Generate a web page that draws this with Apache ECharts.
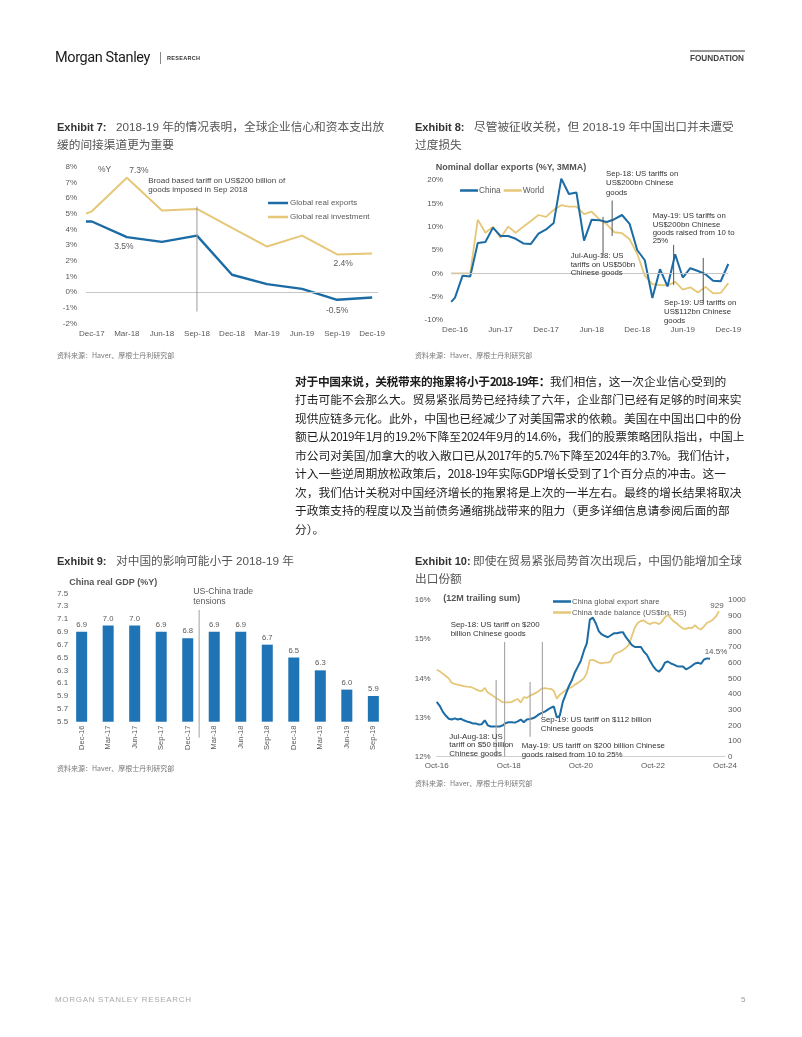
<!DOCTYPE html>
<html><head><meta charset="utf-8">
<script src="https://cdn.jsdelivr.net/npm/echarts/dist/echarts.min.js"></script>
<style>
html,body{margin:0;padding:0;background:#fff;}
#page{position:relative;width:802px;height:1037px;overflow:hidden;background:#fff;}
#chart{position:absolute;left:0;top:0;width:802px;height:1037px;z-index:0;}
.t{position:absolute;white-space:nowrap;z-index:1;font-family:"Liberation Sans","Noto Sans CJK SC",sans-serif;}
.title{font-size:11.7px;line-height:17px;color:#555;font-family:"Liberation Sans","Noto Sans CJK SC",sans-serif;}
.title b{display:inline-block;width:59px;color:#333;font-size:11px;font-weight:bold;}
.src{font-size:7px;line-height:8px;color:#777;font-family:"Noto Sans CJK SC",sans-serif;}
.para{font-family:"Noto Sans CJK SC",sans-serif;font-size:11.75px;line-height:18.5px;color:#1e1e1e;}
.para b{font-weight:bold;letter-spacing:-0.3px;}
.para .n{letter-spacing:-0.6px;}
.para b .n{letter-spacing:-1.2px;}
</style></head>
<body>
<div id="page">
<div id="chart"></div>

<div class="t" style="left:55px;top:49px;font-family:Roboto,'Liberation Sans',sans-serif;font-size:14.5px;line-height:18px;letter-spacing:-0.4px;color:#1a1a1a;">Morgan Stanley</div>
<div class="t" style="left:160px;top:52px;width:1px;height:12px;background:#888;"></div>
<div class="t" style="left:167px;top:55px;font-size:5.5px;line-height:6px;font-weight:bold;letter-spacing:0.3px;color:#333;">RESEARCH</div>
<div class="t" style="left:690px;top:50px;width:55px;height:2px;background:#999;"></div>
<div class="t" style="left:690px;top:54px;font-size:8.2px;line-height:9px;font-weight:bold;color:#444;">FOUNDATION</div>

<div class="t title" style="left:57px;top:117.5px;"><b>Exhibit 7:</b>2018-19 年的情况表明，全球企业信心和资本支出放<br>缓的间接渠道更为重要</div>
<div class="t title" style="left:415px;top:117.5px;"><b>Exhibit 8:</b>尽管被征收关税，但 2018-19 年中国出口并未遭受<br>过度损失</div>
<div class="t src" style="left:57px;top:351px;">资料来源：Haver、摩根士丹利研究部</div>
<div class="t src" style="left:415px;top:351px;">资料来源：Haver、摩根士丹利研究部</div>

<div class="t para" style="left:295px;top:371.75px;">
<div><b>对于中国来说，关税带来的拖累将小于<span class="n">2018-19</span>年：</b>我们相信，这一次企业信心受到的</div>
<div>打击可能不会那么大。贸易紧张局势已经持续了六年，企业部门已经有足够的时间来实</div>
<div>现供应链多元化。此外，中国也已经减少了对美国需求的依赖。美国在中国出口中的份</div>
<div>额已从<span class="n">2019</span>年<span class="n">1</span>月的<span class="n">19.2%</span>下降至<span class="n">2024</span>年<span class="n">9</span>月的<span class="n">14.6%</span>，我们的股票策略团队指出，中国上</div>
<div>市公司对美国<span class="n">/</span>加拿大的收入敞口已从<span class="n">2017</span>年的<span class="n">5.7%</span>下降至<span class="n">2024</span>年的<span class="n">3.7%</span>。我们估计，</div>
<div>计入一些逆周期放松政策后，<span class="n">2018-19</span>年实际<span class="n">GDP</span>增长受到了<span class="n">1</span>个百分点的冲击。这一</div>
<div>次，我们估计关税对中国经济增长的拖累将是上次的一半左右。最终的增长结果将取决</div>
<div>于政策支持的程度以及当前债务通缩挑战带来的阻力（更多详细信息请参阅后面的部</div>
<div>分）。</div>
</div>

<div class="t title" style="left:57px;top:551.5px;"><b>Exhibit 9:</b>对中国的影响可能小于 2018-19 年</div>
<div class="t title" style="left:415px;top:551.5px;"><b style="width:58px">Exhibit 10:</b>即使在贸易紧张局势首次出现后，中国仍能增加全球<br>出口份额</div>
<div class="t src" style="left:57px;top:764px;">资料来源：Haver、摩根士丹利研究部</div>
<div class="t src" style="left:415px;top:779px;">资料来源：Haver、摩根士丹利研究部</div>

<div class="t" style="left:55px;top:995px;font-size:8px;line-height:9px;letter-spacing:0.7px;color:#aaa;">MORGAN STANLEY RESEARCH</div>
<div class="t" style="left:741px;top:995px;font-size:8px;line-height:9px;color:#999;">5</div>
</div>

<script>
// ---------------- DATA ----------------
// Exhibit 7 (quarterly, months after Dec-17)
const ex7TickLabels = ['Dec-17','Mar-18','Jun-18','Sep-18','Dec-18','Mar-19','Jun-19','Sep-19','Dec-19'];
const ex7MonthsFromDec17 = [-0.5, 0, 3, 6, 9, 12, 15, 18, 21, 24];
const ex7GlobalExports = [4.5, 4.5, 3.5, 3.2, 3.6, 1.1, 0.5, 0.2, -0.5, -0.35];
const ex7GlobalInvestment = [5.0, 5.15, 7.3, 5.2, 5.3, 4.1, 2.9, 3.6, 2.4, 2.45];

// Exhibit 8 (monthly, months after Dec-16; first point half a month earlier)
const ex8TickLabels = ['Dec-16','Jun-17','Dec-17','Jun-18','Dec-18','Jun-19','Dec-19'];
const ex8FirstMonth = -0.5;
const ex8China = [-6.1, -5.2, -0.5, -0.7, 6.5, 6.7, 9.8, 8.0, 8.0, 7.4, 6.4, 6.3, 8.5, 9.4, 10.8, 20.3, 17.0, 17.3, 7.0, 11.5, 11.4, 11.0, 11.6, 12.5, 10.6, 5.0, 2.8, -5.3, 0.9, -2.8, 4.1, -0.9, 1.1, 0.5, -0.2, -1.6, -1.7, 2.0];
const ex8World = [0.0, 0.0, 0.0, 0.0, 11.5, 8.7, 10.0, 7.6, 10.0, 8.7, 10.0, 11.2, 12.5, 12.1, 13.6, 14.6, 14.3, 14.3, 12.7, 13.2, 11.6, 10.5, 8.8, 8.6, 7.3, 4.2, -0.5, -2.3, -2.5, -2.6, -1.8, -3.5, -3.0, -4.1, -2.9, -4.3, -4.2, -2.1];

// Exhibit 9 (quarterly bars)
const ex9Quarters = ['Dec-16','Mar-17','Jun-17','Sep-17','Dec-17','Mar-18','Jun-18','Sep-18','Dec-18','Mar-19','Jun-19','Sep-19'];
const ex9RealGDP = [6.9, 7.0, 7.0, 6.9, 6.8, 6.9, 6.9, 6.7, 6.5, 6.3, 6.0, 5.9];
const ex9YTicks = [5.5, 5.7, 5.9, 6.1, 6.3, 6.5, 6.7, 6.9, 7.1, 7.3, 7.5];

// Exhibit 10 (monthly from Oct-16)
const ex10TickLabels = ['Oct-16','Oct-18','Oct-20','Oct-22','Oct-24'];
const ex10ExportShare = [13.4,13.3,13.15,13.05,12.97,12.95,12.98,12.95,12.97,12.93,12.9,12.88,12.85,12.85,12.82,12.83,12.93,12.8,12.77,12.77,12.77,12.77,12.8,12.86,12.88,12.88,12.87,12.9,12.95,12.88,12.95,12.96,12.98,13.02,13.08,13.12,13.15,13.2,13.25,13.28,13.0,13.05,13.4,13.6,13.8,13.95,14.15,14.3,14.45,14.7,14.9,15.5,15.55,15.4,15.2,15.12,15.08,15.05,15.1,15.15,15.15,15.17,15.18,15.05,14.95,14.85,14.8,14.8,14.8,14.68,14.6,14.45,14.32,14.22,14.17,14.25,14.4,14.43,14.38,14.35,14.31,14.3,14.3,14.23,14.27,14.32,14.38,14.4,14.37,14.48,14.51,14.5];
const ex10TradeBalance = [555,545,530,515,500,471,465,460,455,450,447,445,440,430,422,418,439,410,398,385,372,360,348,347,347,350,360,368,345,380,375,390,398,407,420,435,438,435,433,420,370,396,410,425,436,445,460,471,485,500,535,615,618,610,600,595,600,600,610,650,662,670,680,695,715,770,825,855,866,870,855,846,855,855,846,862,890,905,882,862,850,832,818,816,824,820,840,820,812,832,855,862,876,895,929];

// ---------------- STYLE ----------------
const FONT = '"Liberation Sans", Arial, sans-serif';
const GRAY = '#595959';
const BLUE = '#1b6ba5';
const BAR = '#1f74b5';
const GOLD = '#e6c778';
const lab = (extra) => Object.assign({fontFamily: FONT, fontSize: 8, color: GRAY}, extra || {});
const noLines = {axisLine: {show: false, onZero: false}, axisTick: {show: false}, splitLine: {show: false}};
const zeroLine = {silent: true, symbol: 'none', label: {show: false}, lineStyle: {color: '#c6c6c6', width: 1, type: 'solid'}, data: [{yAxis: 0}]};
const ex8X = (i) => (i === 0 ? ex8FirstMonth : i - 1);

const chart = echarts.init(document.getElementById('chart'), null, {renderer: 'canvas', width: 802, height: 1037});

const option = {
  animation: false,
  textStyle: {fontFamily: FONT},
  grid: [
    {left: 86, top: 166.7, width: 292, height: 156.6, outerBoundsMode: 'none'},
    {left: 451.2, top: 180, width: 277.1, height: 140, outerBoundsMode: 'none'},
    {left: 68.4, top: 593.3, width: 318.2, height: 128.4, outerBoundsMode: 'none'},
    {left: 436.7, top: 600, width: 288.3, height: 156.7, outerBoundsMode: 'none'}
  ],
  xAxis: [
    Object.assign({gridIndex: 0, type: 'value', min: -0.5, max: 24.5}, noLines, {
      axisLabel: lab({margin: 6, customValues: ex7TickLabels.map((_, i) => i * 3),
        formatter: v => ex7TickLabels[Math.round(v / 3)]})}),
    Object.assign({gridIndex: 1, type: 'value', min: -0.5, max: 36}, noLines, {
      axisLabel: lab({margin: 6, customValues: ex8TickLabels.map((_, i) => i * 6),
        formatter: v => ex8TickLabels[Math.round(v / 6)]})}),
    Object.assign({gridIndex: 2, type: 'category', data: ex9Quarters}, noLines, {
      axisLabel: lab({margin: 4, rotate: 90, interval: 0, fontSize: 7.5})}),
    {gridIndex: 3, type: 'value', min: 0, max: 96, splitLine: {show: false}, axisTick: {show: false},
      axisLine: {show: true, onZero: false, lineStyle: {color: '#cfcfcf', width: 1}},
      axisLabel: lab({margin: 5, customValues: ex10TickLabels.map((_, i) => i * 24),
        formatter: v => ex10TickLabels[Math.round(v / 24)]})}
  ],
  yAxis: [
    Object.assign({gridIndex: 0, type: 'value', min: -2, max: 8, interval: 1}, noLines, {axisLabel: lab({margin: 9, formatter: '{value}%'})}),
    Object.assign({gridIndex: 1, type: 'value', min: -10, max: 20, interval: 5}, noLines, {axisLabel: lab({margin: 8, formatter: '{value}%'})}),
    Object.assign({gridIndex: 2, type: 'value', min: 5.5, max: 7.5}, noLines, {axisLabel: lab({margin: 11.4, align: 'left', customValues: ex9YTicks, formatter: v => v.toFixed(1)})}),
    Object.assign({gridIndex: 3, type: 'value', min: 12, max: 16, interval: 1}, noLines, {axisLabel: lab({margin: 6, formatter: '{value}%'})}),
    Object.assign({gridIndex: 3, type: 'value', position: 'right', min: 0, max: 1000, interval: 100}, noLines, {axisLabel: lab({margin: 3, formatter: v => String(v)})})
  ],
  legend: [
    {orient: 'vertical', left: 263, top: 194, itemWidth: 20, itemHeight: 2.5, itemGap: 6, icon: 'rect',
      textStyle: {fontFamily: FONT, fontSize: 8, color: GRAY, padding: [0, 0, 0, -3]},
      data: ['Global real exports', 'Global real investment']},
    {orient: 'horizontal', left: 455, top: 181.5, itemWidth: 18, itemHeight: 2.5, itemGap: 3, icon: 'rect',
      textStyle: {fontFamily: FONT, fontSize: 8.3, color: GRAY, padding: [0, 0, 0, -4]},
      data: ['China', 'World']},
    {orient: 'vertical', left: 548, top: 592.5, itemWidth: 18, itemHeight: 2.5, itemGap: 3, icon: 'rect',
      textStyle: {fontFamily: FONT, fontSize: 7.7, color: GRAY, padding: [0, 0, 0, -4]},
      data: ['China global export share', 'China trade balance (US$bn, RS)']}
  ],
  series: [
    {name: 'Global real investment', type: 'line', xAxisIndex: 0, yAxisIndex: 0, showSymbol: false, symbol: 'none',
      lineStyle: {color: GOLD, width: 2}, itemStyle: {color: GOLD},
      data: ex7MonthsFromDec17.map((m, i) => [m, ex7GlobalInvestment[i]])},
    {name: 'Global real exports', type: 'line', xAxisIndex: 0, yAxisIndex: 0, showSymbol: false, symbol: 'none',
      lineStyle: {color: BLUE, width: 2.4}, itemStyle: {color: BLUE}, markLine: zeroLine,
      data: ex7MonthsFromDec17.map((m, i) => [m, ex7GlobalExports[i]])},
    {name: 'World', type: 'line', xAxisIndex: 1, yAxisIndex: 1, showSymbol: false, symbol: 'none', clip: false,
      lineStyle: {color: GOLD, width: 1.8}, itemStyle: {color: GOLD}, markLine: zeroLine,
      data: ex8World.map((v, i) => [ex8X(i), v])},
    {name: 'China', type: 'line', xAxisIndex: 1, yAxisIndex: 1, showSymbol: false, symbol: 'none', clip: false,
      lineStyle: {color: BLUE, width: 2}, itemStyle: {color: BLUE},
      data: ex8China.map((v, i) => [ex8X(i), v])},
    {name: 'China real GDP', type: 'bar', xAxisIndex: 2, yAxisIndex: 2, barWidth: 11,
      itemStyle: {color: BAR},
      label: {show: true, position: 'top', distance: 3, fontFamily: FONT, fontSize: 7.7, color: GRAY, formatter: p => p.value.toFixed(1)},
      data: ex9RealGDP},
    {name: 'China trade balance (US$bn, RS)', type: 'line', xAxisIndex: 3, yAxisIndex: 4, showSymbol: false, symbol: 'none',
      lineStyle: {color: GOLD, width: 1.8}, itemStyle: {color: GOLD},
      data: ex10TradeBalance.map((v, i) => [i, v])},
    {name: 'China global export share', type: 'line', xAxisIndex: 3, yAxisIndex: 3, showSymbol: false, symbol: 'none',
      lineStyle: {color: BLUE, width: 2}, itemStyle: {color: BLUE},
      data: ex10ExportShare.map((v, i) => [i, v])}
  ]
};
chart.setOption(option);

// ---------- annotations positioned through the axes ----------
const px = (xi, yi, pt) => chart.convertToPixel({xAxisIndex: xi, yAxisIndex: yi}, pt);
const g = [];
function vline(xi, yi, x, y1, y2, color, w, extraBottom) {
  const a = px(xi, yi, [x, y1]), b = px(xi, yi, [x, y2]);
  g.push({type: 'line', silent: true, z: 5, shape: {x1: a[0], y1: a[1], x2: b[0], y2: b[1] + (extraBottom || 0)}, style: {stroke: color, lineWidth: w}});
}
function text(x, cy, str, opt) {
  opt = opt || {};
  const fs = opt.fs || 8, lh = opt.lh || fs * 1.2;
  g.push({type: 'text', silent: true, z: 10, x: x, y: cy - lh / 2,
    style: {text: str, font: (opt.bold ? 'bold ' : '') + fs + 'px ' + FONT, fill: opt.color || GRAY,
      lineHeight: lh, align: opt.align || 'left', verticalAlign: 'top', textAlign: opt.align || 'left', textVerticalAlign: 'top'}});
}
function pointLabel(xi, yi, pt, dx, dy, str, opt) {
  const p = px(xi, yi, pt);
  text(p[0] + dx, p[1] + dy, str, Object.assign({align: 'center'}, opt || {}));
}

// Exhibit 7
vline(0, 0, 9, 5.45, -1.25, '#9a9a9a', 1);
text(98, 169.5, '%Y', {fs: 8.5});
text(148.3, 180.7, 'Broad based tariff on US$200 billion of\ngoods imposed in Sep 2018', {fs: 8, lh: 9.5, color: '#444'});
pointLabel(0, 0, [3, ex7GlobalInvestment[2]], 12, -7.5, ex7GlobalInvestment[2].toFixed(1) + '%', {fs: 8.5});
pointLabel(0, 0, [3, ex7GlobalExports[2]], -3, 9.5, ex7GlobalExports[2].toFixed(1) + '%', {fs: 8.5});
pointLabel(0, 0, [21, ex7GlobalInvestment[8]], 6, 9.5, ex7GlobalInvestment[8].toFixed(1) + '%', {fs: 8.5});
pointLabel(0, 0, [21, ex7GlobalExports[8]], 0, 10.5, ex7GlobalExports[8].toFixed(1) + '%', {fs: 8.5});

// Exhibit 8
text(435.7, 167.3, 'Nominal dollar exports (%Y, 3MMA)', {fs: 9, bold: true, color: '#555'});
vline(1, 1, 19.5, 12.1, 3.6, '#555', 1);
vline(1, 1, 20.7, 15.6, 8.0, '#555', 1);
vline(1, 1, 28.8, 6.1, -2.5, '#555', 1);
vline(1, 1, 32.7, 3.3, -6.4, '#555', 1);
text(606, 173.5, 'Sep-18: US tariffs on\nUS$200bn Chinese\ngoods', {fs: 7.8, lh: 9.5, color: '#333'});
text(652.7, 216, 'May-19: US tariffs on\nUS$200bn Chinese\ngoods raised from 10 to\n25%', {fs: 7.8, lh: 8.4, color: '#333'});
text(570.7, 256, 'Jul-Aug-18: US\ntariffs on US$50bn\nChinese goods', {fs: 7.8, lh: 8.5, color: '#333'});
text(664, 303, 'Sep-19: US tariffs on\nUS$112bn Chinese\ngoods', {fs: 7.8, lh: 9, color: '#333'});

// Exhibit 9
text(69.3, 582.3, 'China real GDP (%Y)', {fs: 9, bold: true, color: '#555'});
(function () {
  const a = px(2, 2, [4, 7.24]), b = px(2, 2, [5, 5.5]);
  const x = a[0] + 0.43 * (b[0] - a[0]);
  g.push({type: 'line', silent: true, z: 5, shape: {x1: x, y1: a[1], x2: x, y2: b[1] + 16}, style: {stroke: '#a0a0a0', lineWidth: 1}});
})();
text(193.3, 591.7, 'US-China trade\ntensions', {fs: 8.7, lh: 10});

// Exhibit 10
text(443.3, 598.3, '(12M trailing sum)', {fs: 9, bold: true, color: '#555'});
vline(3, 3, 19.8, 13.96, 12.0, '#a8a8a8', 1.2);
vline(3, 3, 22.6, 14.93, 12.0, '#a8a8a8', 1.2);
vline(3, 3, 31.1, 13.91, 12.51, '#a8a8a8', 1.2);
vline(3, 3, 35.2, 14.93, 13.02, '#a8a8a8', 1.2);
text(450.7, 625, 'Sep-18: US tariff on $200\nbillion Chinese goods', {fs: 7.9, lh: 9.3, color: '#333'});
text(449.3, 736.7, 'Jul-Aug-18: US\ntariff on $50 billion\nChinese goods', {fs: 7.9, lh: 8.4, color: '#333'});
text(540.7, 720, 'Sep-19: US tariff on $112 billion\nChinese goods', {fs: 7.9, lh: 9, color: '#333'});
text(521.7, 745.7, 'May-19: US tariff on $200 billion Chinese\ngoods raised from 10 to 25%', {fs: 7.9, lh: 8.7, color: '#333'});
(function () {
  const lastT = ex10TradeBalance.length - 1;
  const p = chart.convertToPixel({xAxisIndex: 3, yAxisIndex: 4}, [lastT, ex10TradeBalance[lastT]]);
  text(p[0] - 2, p[1] - 5.5, String(ex10TradeBalance[lastT]), {fs: 8, align: 'center'});
  const lastS = ex10ExportShare.length - 1;
  const q = chart.convertToPixel({xAxisIndex: 3, yAxisIndex: 3}, [lastS, ex10ExportShare[lastS]]);
  text(q[0] + 6, q[1] - 7, ex10ExportShare[lastS].toFixed(1) + '%', {fs: 8, align: 'center'});
})();

chart.setOption({graphic: {elements: g}});
</script>
</body></html>
